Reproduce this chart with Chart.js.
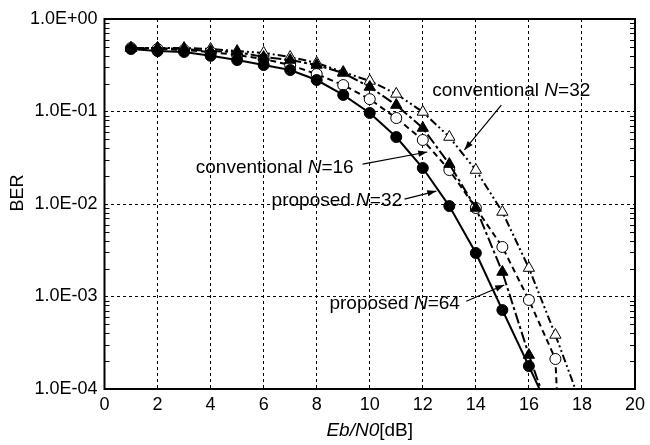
<!DOCTYPE html>
<html>
<head>
<meta charset="utf-8">
<script src="https://cdn.jsdelivr.net/npm/chart.js@4/dist/chart.umd.min.js"></script>
<style>
  body { margin: 0; background: #fff; }
  #wrap { width: 650px; height: 445px; }
</style>
</head>
<body>
<div id="wrap"><canvas id="berChart" width="650" height="445"></canvas></div>
<script>
// Eb/N0 [dB] at each marker
const snr = [1, 2, 3, 4, 5, 6, 7, 8, 9, 10, 11, 12, 13, 14, 15, 16, 17];

// BER
const berProposed64 = [0.474, 0.45, 0.44, 0.40, 0.36, 0.318, 0.281, 0.219, 0.151, 0.0964, 0.053, 0.0245, 0.0095, 0.00295, 0.000714, 0.000177];
const berProposed32 = [0.486, 0.474, 0.462, 0.44, 0.408, 0.37, 0.318, 0.254, 0.193, 0.136, 0.085, 0.0492, 0.0233, 0.00906, 0.00343, 0.000917, 0.000211];
const berConv16 = [0.486, 0.486, 0.474, 0.45, 0.44, 0.388, 0.36, 0.318, 0.261, 0.184, 0.1175, 0.0663, 0.027, 0.00906, 0.00184, 0.000233];
const berConv32 = [0.486, 0.486, 0.486, 0.474, 0.45, 0.43, 0.388, 0.335, 0.267, 0.214, 0.155, 0.0988, 0.053, 0.0233, 0.0082, 0.00203, 0.000384];

// where each curve runs out through the bottom of the plot (no marker there)
const exitSnr = { p64: 16.4, p32: 17.05, c16: 16.45, c32: 17.75 };
const berFloor = 1e-4;

const xTicks = [0, 2, 4, 6, 8, 10, 12, 14, 16, 18, 20];

// annotation labels: [text before N, N=value], label anchor, arrow tail, arrow head (data units)
const notes = [
    { pre: 'conventional ', num: '=32', at: [12.36, 0.167], from: [14.96, 0.117], to: [13.57, 0.0384] },
    { pre: 'conventional ', num: '=16', at: [3.44, 0.0245], from: [9.73, 0.027], to: [12.17, 0.0365] },
    { pre: 'proposed ', num: '=32', at: [6.30, 0.0108], from: [11.31, 0.0113], to: [12.51, 0.0138] },
    { pre: 'proposed ', num: '=64', at: [8.48, 0.00083], from: [13.64, 0.00089], to: [15.07, 0.00133] }
];

const FONT = '"Liberation Sans", Arial, Helvetica, sans-serif';

function toPoints(ber, exitX) {
    const pts = ber.map((v, i) => ({ x: snr[i], y: v }));
    pts.push({ x: exitX, y: berFloor });
    return pts;
}

function markerRadius(r) {
    return ctx => (ctx.raw && ctx.raw.y === berFloor) ? 0 : r;
}

function isDecade(v) {
    const l = Math.log10(v);
    return Math.abs(l - Math.round(l)) < 1e-6;
}

function sciLabel(v) {
    const e = Math.round(Math.log10(v));
    return '1.0E' + (e < 0 ? '-' : '+') + String(Math.abs(e)).padStart(2, '0');
}

function drawArrow(c, x1, y1, x2, y2) {
    c.beginPath();
    c.moveTo(x1, y1);
    c.lineTo(x2, y2);
    c.stroke();
    const a = Math.atan2(y2 - y1, x2 - x1);
    const len = 9, wid = 3.2;
    c.beginPath();
    c.moveTo(x2, y2);
    c.lineTo(x2 - len * Math.cos(a) + wid * Math.sin(a), y2 - len * Math.sin(a) - wid * Math.cos(a));
    c.lineTo(x2 - len * Math.cos(a) - wid * Math.sin(a), y2 - len * Math.sin(a) + wid * Math.cos(a));
    c.closePath();
    c.fill();
}

const framePlugin = {
    id: 'frame',
    afterDatasetsDraw(chart) {
        const c = chart.ctx;
        const { left, right, top, bottom } = chart.chartArea;
        const xs = chart.scales.x, ys = chart.scales.y;
        c.save();
        c.strokeStyle = '#000';
        c.fillStyle = '#000';

        // minor log ticks, inward on both sides
        c.lineWidth = 1;
        for (let d = -4; d < 0; d++) {
            for (let k = 2; k <= 9; k++) {
                const py = Math.round(ys.getPixelForValue(k * Math.pow(10, d))) + 0.5;
                c.beginPath();
                c.moveTo(left, py); c.lineTo(left + 5, py);
                c.moveTo(right, py); c.lineTo(right - 5, py);
                c.stroke();
            }
        }

        // frame
        c.lineWidth = 2;
        c.strokeRect(left, top, right - left, bottom - top);

        // annotations
        c.font = '19px ' + FONT;
        c.textBaseline = 'middle';
        c.lineWidth = 1.2;
        notes.forEach(n => {
            const px = xs.getPixelForValue(n.at[0]);
            const py = ys.getPixelForValue(n.at[1]);
            c.font = '19px ' + FONT;
            c.fillText(n.pre, px, py);
            let w = c.measureText(n.pre).width;
            c.font = 'italic 19px ' + FONT;
            c.fillText('N', px + w, py);
            w += c.measureText('N').width;
            c.font = '19px ' + FONT;
            c.fillText(n.num, px + w, py);
            drawArrow(c,
                xs.getPixelForValue(n.from[0]), ys.getPixelForValue(n.from[1]),
                xs.getPixelForValue(n.to[0]), ys.getPixelForValue(n.to[1]));
        });

        // x title: Eb/N0[dB]
        const cx = (left + right) / 2;
        const ty = 431;
        c.font = 'italic 19px ' + FONT;
        const w1 = c.measureText('Eb/N0').width;
        c.font = '19px ' + FONT;
        const w2 = c.measureText('[dB]').width;
        const sx = cx - (w1 + w2) / 2;
        c.textAlign = 'left';
        c.font = 'italic 19px ' + FONT;
        c.fillText('Eb/N0', sx, ty);
        c.font = '19px ' + FONT;
        c.fillText('[dB]', sx + w1, ty);

        // y title
        c.translate(18, 193);
        c.rotate(-Math.PI / 2);
        c.textAlign = 'center';
        c.font = '18px ' + FONT;
        c.fillText('BER', 0, 0);
        c.restore();
    }
};

const lineBase = { borderColor: '#000', borderWidth: 2, tension: 0, pointBorderColor: '#000', pointBorderWidth: 1 };

new Chart(document.getElementById('berChart'), {
    type: 'line',
    data: {
        datasets: [
            { ...lineBase, label: 'proposed N=64', data: toPoints(berProposed64, exitSnr.p64),
              pointStyle: 'circle', pointRadius: markerRadius(5.5), pointBackgroundColor: '#000' },
            { ...lineBase, label: 'conventional N=16', data: toPoints(berConv16, exitSnr.c16), borderDash: [11, 3, 3, 3],
              pointStyle: 'triangle', pointRadius: markerRadius(6.5), pointBackgroundColor: '#000' },
            { ...lineBase, label: 'proposed N=32', data: toPoints(berProposed32, exitSnr.p32), borderDash: [6, 4],
              pointStyle: 'circle', pointRadius: markerRadius(5.5), pointBackgroundColor: '#fff' },
            { ...lineBase, label: 'conventional N=32', data: toPoints(berConv32, exitSnr.c32), borderDash: [8, 3, 2, 3, 2, 3],
              pointStyle: 'triangle', pointRadius: markerRadius(6.5), pointBackgroundColor: '#fff' }
        ]
    },
    options: {
        responsive: false,
        animation: false,
        layout: { padding: { top: 19, right: 14, left: 0, bottom: 0 } },
        plugins: { legend: { display: false }, tooltip: { enabled: false } },
        scales: {
            x: {
                type: 'linear', min: 0, max: 20,
                afterBuildTicks: s => { s.ticks = xTicks.map(v => ({ value: v })); },
                afterFit: s => { s.height = 56; },
                grid: { color: '#000', lineWidth: 1, drawTicks: false },
                border: { display: false, dash: [3, 3] },
                ticks: { color: '#000', padding: 5, font: { family: FONT, size: 18 }, maxRotation: 0, autoSkip: false }
            },
            y: {
                type: 'logarithmic', min: 1e-4, max: 1,
                afterFit: s => { s.width = 104.5; },
                grid: { color: c => (c.tick && isDecade(c.tick.value)) ? '#000' : 'rgba(0,0,0,0)', lineWidth: 1, drawTicks: false },
                border: { display: false, dash: [3, 3] },
                ticks: {
                    color: '#000', padding: 7, autoSkip: false,
                    font: { family: FONT, size: 18 },
                    callback: v => isDecade(v) ? sciLabel(v) : ''
                }
            }
        }
    },
    plugins: [framePlugin]
});
</script>
</body>
</html>
